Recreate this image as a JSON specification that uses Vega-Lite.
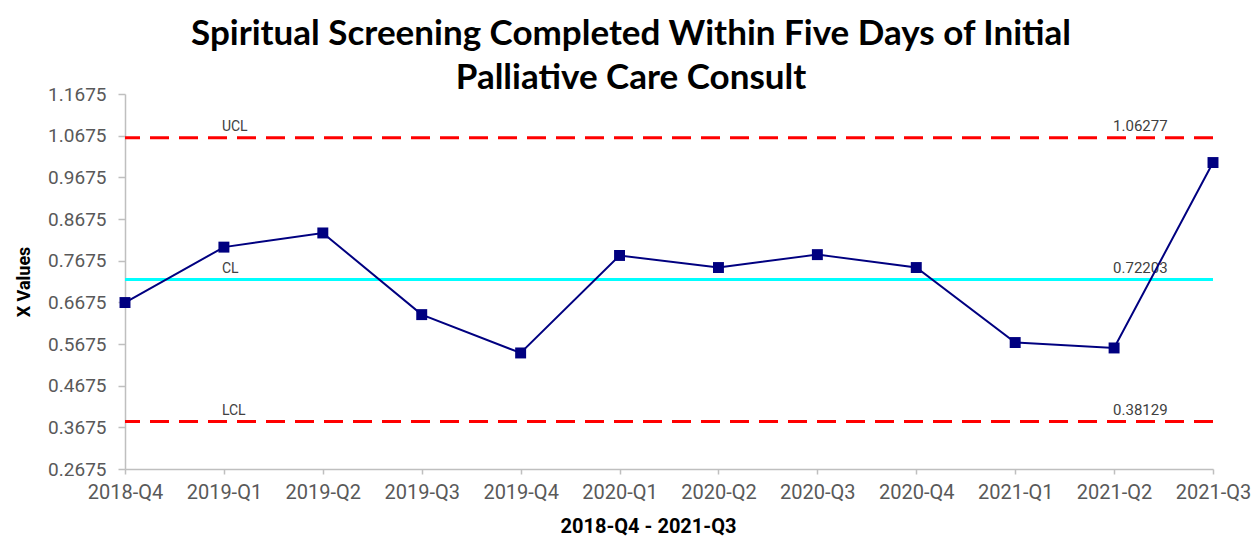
{
  "$schema": "https://vega.github.io/schema/vega-lite/v6.json",
  "width": 1088,
  "height": 375,
  "autosize": {"type": "none"},
  "padding": {"left": 125, "top": 94, "right": 38, "bottom": 74},
  "background": "white",
  "config": {"view": {"stroke": null}, "font": "Roboto"},
  "title": {
    "text": ["Spiritual Screening Completed Within Five Days of Initial", "Palliative Care Consult"],
    "fontSize": 35,
    "font": "Lato",
    "fontWeight": "bold",
    "color": "#000000",
    "lineHeight": 44,
    "anchor": "middle",
    "dx": -38,
    "offset": -11
  },
  "datasets": {
    "series": [
      {"quarter": "2018-Q4", "value": 0.667},
      {"quarter": "2019-Q1", "value": 0.800},
      {"quarter": "2019-Q2", "value": 0.834},
      {"quarter": "2019-Q3", "value": 0.638},
      {"quarter": "2019-Q4", "value": 0.546},
      {"quarter": "2020-Q1", "value": 0.780},
      {"quarter": "2020-Q2", "value": 0.751},
      {"quarter": "2020-Q3", "value": 0.782},
      {"quarter": "2020-Q4", "value": 0.751},
      {"quarter": "2021-Q1", "value": 0.571},
      {"quarter": "2021-Q2", "value": 0.558},
      {"quarter": "2021-Q3", "value": 1.003}
    ],
    "limits": [
      {"line": "UCL", "value": 1.06277},
      {"line": "CL", "value": 0.72203},
      {"line": "LCL", "value": 0.38129}
    ]
  },
  "layer": [
    {
      "data": {"name": "limits"},
      "mark": {"type": "rule", "strokeWidth": 3},
      "encoding": {
        "y": {"field": "value", "type": "quantitative", "scale": {"domain": [0.2675, 1.1675], "nice": false, "zero": false}},
        "color": {"field": "line", "type": "nominal", "scale": {"domain": ["UCL", "CL", "LCL"], "range": ["#ff0000", "#00ffff", "#ff0000"]}, "legend": null},
        "strokeDash": {"field": "line", "type": "nominal", "scale": {"domain": ["UCL", "CL", "LCL"], "range": [[19, 10], [1, 0], [19, 10]]}, "legend": null}
      }
    },
    {
      "data": {"name": "limits"},
      "mark": {"type": "text", "align": "left", "baseline": "bottom", "dx": -2, "dy": -4, "fontSize": 14, "font": "Roboto", "color": "#404040"},
      "encoding": {
        "x": {"datum": "2019-Q1", "type": "ordinal"},
        "y": {"field": "value", "type": "quantitative"},
        "text": {"field": "line"}
      }
    },
    {
      "data": {"name": "limits"},
      "mark": {"type": "text", "align": "left", "baseline": "bottom", "dx": -1, "dy": -4, "fontSize": 15, "font": "Roboto", "color": "#404040"},
      "encoding": {
        "x": {"datum": "2021-Q2", "type": "ordinal"},
        "y": {"field": "value", "type": "quantitative"},
        "text": {"field": "value", "format": ".5f"}
      }
    },
    {
      "data": {"name": "series"},
      "mark": {"type": "line", "color": "#000080", "strokeWidth": 2},
      "encoding": {
        "x": {
          "field": "quarter", "type": "ordinal", "sort": null,
          "scale": {"type": "point", "padding": 0, "domain": ["2018-Q4", "2019-Q1", "2019-Q2", "2019-Q3", "2019-Q4", "2020-Q1", "2020-Q2", "2020-Q3", "2020-Q4", "2021-Q1", "2021-Q2", "2021-Q3"]},
          "axis": {
            "title": "2018-Q4 - 2021-Q3", "titleFont": "Roboto", "titleFontSize": 20, "titleFontWeight": "bold", "titleColor": "#000000", "titlePadding": 14, "titleX": 523,
            "labelAngle": 0, "labelAlign": "center", "labelFontSize": 20, "labelColor": "#595959", "labelPadding": 18, "labelFlush": false, "labelOverlap": false, "labelBound": false,
            "domainColor": "#bfbfbf", "domainWidth": 1.5, "tickColor": "#bfbfbf", "tickSize": 5, "tickWidth": 1.5, "grid": false
          }
        },
        "y": {
          "field": "value", "type": "quantitative",
          "scale": {"domain": [0.2675, 1.1675], "nice": false, "zero": false},
          "axis": {
            "title": "X Values", "titleFont": "Roboto", "titleFontSize": 18, "titleFontWeight": "bold", "titleColor": "#000000", "titlePadding": 14,
            "values": [0.2675, 0.3675, 0.4675, 0.5675, 0.6675, 0.7675, 0.8675, 0.9675, 1.0675, 1.1675],
            "format": ".4f", "labelFontSize": 19, "labelColor": "#595959", "labelPadding": 12, "labelFlush": false,
            "domainColor": "#bfbfbf", "domainWidth": 1.5, "tickColor": "#bfbfbf", "tickSize": 7, "tickWidth": 1.5, "grid": false
          }
        }
      }
    },
    {
      "data": {"name": "series"},
      "mark": {"type": "point", "shape": "square", "filled": true, "size": 120, "color": "#000080", "opacity": 1},
      "encoding": {
        "x": {"field": "quarter", "type": "ordinal", "sort": null},
        "y": {"field": "value", "type": "quantitative"}
      }
    }
  ]
}
